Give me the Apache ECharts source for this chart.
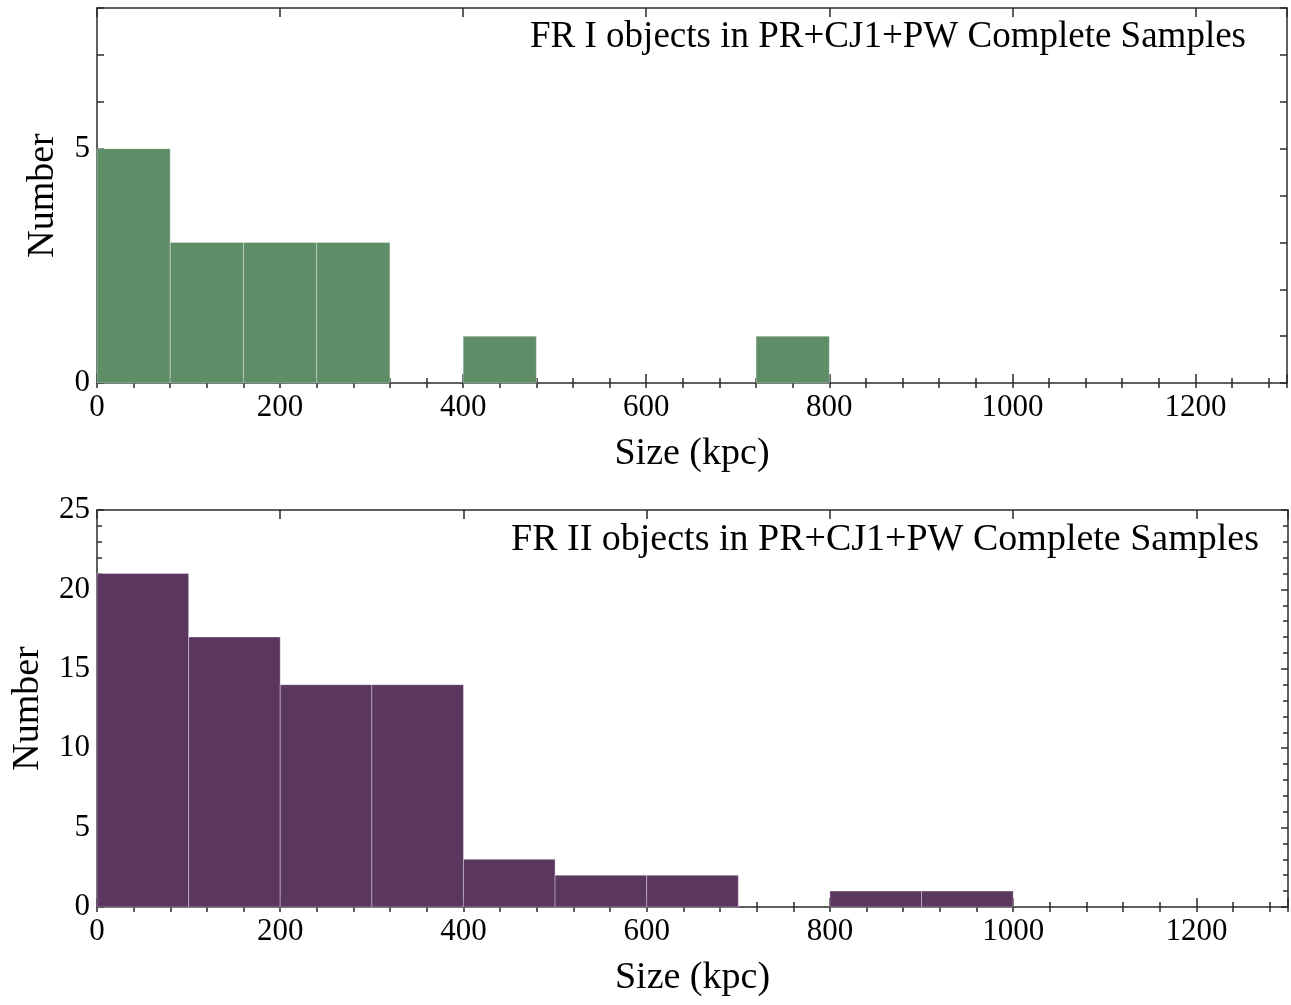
<!DOCTYPE html>
<html>
<head>
<meta charset="utf-8">
<script src="https://cdn.jsdelivr.net/npm/echarts@6/dist/echarts.min.js"></script>
<style>
  html, body { margin: 0; padding: 0; background: #fff; }
  #chart { width: 1291px; height: 1005px; }
</style>
</head>
<body>
<div id="chart"></div>
<script>
// FR I histogram: bin edges (kpc) and counts
var fr1Starts = [0, 80, 160, 240, 400, 720];
var fr1Ends = [80, 160, 240, 320, 480, 800];
var fr1Counts = [5, 3, 3, 3, 1, 1];

// FR II histogram
var fr2Starts = [0, 100, 200, 300, 400, 500, 600, 800, 900];
var fr2Ends = [100, 200, 300, 400, 500, 600, 700, 900, 1000];
var fr2Counts = [21, 17, 14, 14, 3, 2, 2, 1, 1];

var fr1Label = "FR I objects in PR+CJ1+PW Complete Samples";
var fr2Label = "FR II objects in PR+CJ1+PW Complete Samples";

var FONT = "Liberation Serif";
var AXIS_COLOR = "#2b2b2b";

function bins(starts, ends, counts) {
  return starts.map(function (s, i) { return [s, ends[i], counts[i]]; });
}

function renderBin(color) {
  return function (params, api) {
    var p0 = api.coord([api.value(0), api.value(2)]);
    var p1 = api.coord([api.value(1), 0]);
    return {
      type: "rect",
      shape: { x: p0[0], y: p0[1], width: p1[0] - p0[0], height: p1[1] - p0[1] },
      style: { fill: color, stroke: "rgba(255,255,255,0.35)", lineWidth: 1 }
    };
  };
}

function xAxes(grid) {
  var line = { show: true, onZero: false, lineStyle: { color: AXIS_COLOR, width: 1.5 } };
  var base = { type: "value", gridIndex: grid, min: 0, max: 1300, splitLine: { show: false } };
  return [
    Object.assign({}, base, {
      position: "bottom", interval: 200, axisLine: line,
      axisTick: { inside: true, length: 9, lineStyle: { color: AXIS_COLOR, width: 1.5 } },
      axisLabel: {
        color: "#000", fontFamily: FONT, fontSize: 31, margin: 9,
        formatter: function (v) { return v % 200 === 0 ? String(v) : ""; }
      },
      name: "Size (kpc)", nameLocation: "middle", nameGap: 52,
      nameTextStyle: { color: "#000", fontFamily: FONT, fontSize: 38 }
    }),
    Object.assign({}, base, {
      position: "bottom", interval: 40, axisLine: { show: false },
      axisTick: { inside: true, length: 5, lineStyle: { color: AXIS_COLOR, width: 1.5 } },
      axisLabel: { show: false }
    }),
    Object.assign({}, base, {
      position: "top", interval: 200, axisLine: line,
      axisTick: { inside: true, length: 9, lineStyle: { color: AXIS_COLOR, width: 1.5 } },
      axisLabel: { show: false }
    }),
    Object.assign({}, base, {
      position: "top", interval: 40, axisLine: { show: false },
      axisTick: { inside: true, length: 5, lineStyle: { color: AXIS_COLOR, width: 1.5 } },
      axisLabel: { show: false }
    })
  ];
}

function yAxes(grid, max, interval, minor, nameGap) {
  var line = { show: true, onZero: false, lineStyle: { color: AXIS_COLOR, width: 1.5 } };
  var tick = { inside: true, length: 7, lineStyle: { color: AXIS_COLOR, width: 1.5 } };
  var minorTick = { show: minor > 1, splitNumber: minor, length: 5, lineStyle: { color: AXIS_COLOR, width: 1.5 } };
  return [
    {
      type: "value", gridIndex: grid, min: 0, max: max, interval: interval, position: "left",
      splitLine: { show: false }, axisLine: line, axisTick: tick, minorTick: minorTick,
      minorSplitLine: { show: false },
      axisLabel: {
        color: "#000", fontFamily: FONT, fontSize: 31, margin: 7,
        formatter: function (v) { return v % 5 === 0 ? String(v) : ""; }
      },
      name: "Number", nameLocation: "middle", nameGap: nameGap,
      nameTextStyle: { color: "#000", fontFamily: FONT, fontSize: 38 }
    },
    {
      type: "value", gridIndex: grid, min: 0, max: max, interval: interval, position: "right",
      splitLine: { show: false }, axisLine: line, axisTick: tick, minorTick: minorTick,
      minorSplitLine: { show: false }, axisLabel: { show: false }
    }
  ];
}

var chart = echarts.init(document.getElementById("chart"), null, { renderer: "canvas" });
chart.setOption({
  animation: false,
  backgroundColor: "#fff",
  grid: [
    { left: 97, right: 4, top: 8, height: 375 },
    { left: 97, right: 3, top: 510, height: 397 }
  ],
  xAxis: xAxes(0).concat(xAxes(1)),
  yAxis: yAxes(0, 8, 1, 0, 35).concat(yAxes(1, 25, 5, 5, 50)),
  graphic: [
    {
      type: "text", right: 45, top: 19,
      style: { text: fr1Label, fill: "#000", font: "37px '" + FONT + "'" }
    },
    {
      type: "text", right: 32, top: 521,
      style: { text: fr2Label, fill: "#000", font: "38px '" + FONT + "'" }
    }
  ],
  series: [
    {
      type: "custom", xAxisIndex: 0, yAxisIndex: 0,
      renderItem: renderBin("#5f8d68"),
      data: bins(fr1Starts, fr1Ends, fr1Counts)
    },
    {
      type: "custom", xAxisIndex: 4, yAxisIndex: 2,
      renderItem: renderBin("#5b365f"),
      data: bins(fr2Starts, fr2Ends, fr2Counts)
    }
  ]
});
</script>
</body>
</html>
